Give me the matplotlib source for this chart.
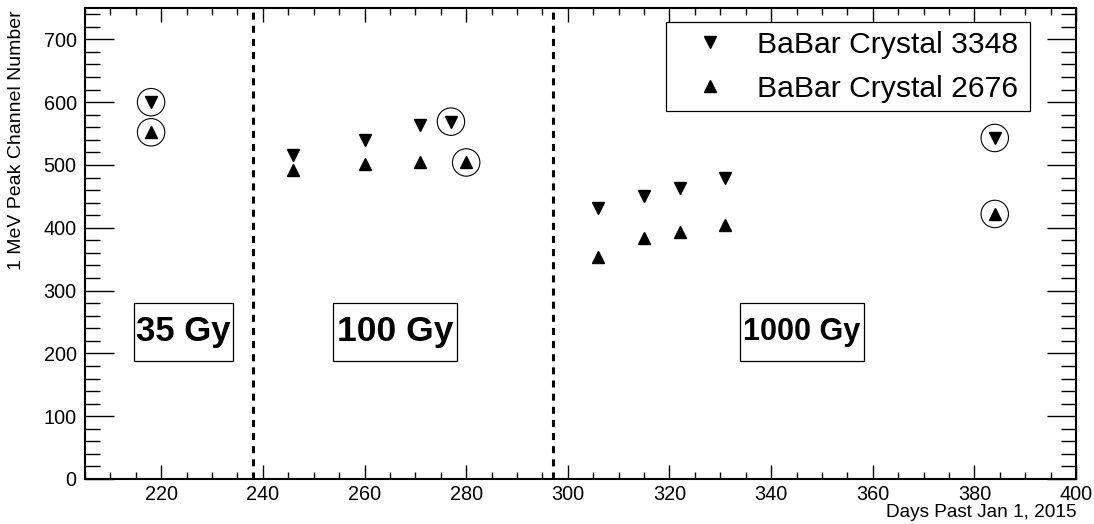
# Peak channel of the 1 MeV line vs. time for two irradiated BaBar crystals
import matplotlib
matplotlib.use('Agg')
import matplotlib.pyplot as plt
from matplotlib.patches import Rectangle
from matplotlib.ticker import MultipleLocator

plt.rcParams['font.family'] = ['Liberation Sans', 'DejaVu Sans']

# data
days_3348 = [218, 246, 260, 271, 277, 306, 315, 322, 331, 384]
peak_3348 = [600, 516, 539, 564, 569, 432, 450, 463, 479, 543]
days_2676 = [218, 246, 260, 271, 280, 306, 315, 322, 331, 384]
peak_2676 = [552, 492, 502, 504, 504, 354, 383, 394, 405, 422]
circled = [0, 4, 9]  # points marked with an open circle

dose_steps = [238, 297]  # day of each new irradiation
dose_labels = ['35 Gy', '100 Gy', '1000 Gy']
dose_boxes = [(214.6, 234.1), (253.8, 278.2), (333.9, 358.3)]
dose_fontsize = [25, 25.5, 22]

fig = plt.figure(figsize=(10.94, 5.24), dpi=100)
ax = fig.add_axes([0.0777, 0.0859, 0.9059, 0.8989])

ax.plot(days_3348, peak_3348, linestyle='none', marker='v', ms=8.5,
        color='black', label='BaBar Crystal 3348')
ax.plot(days_2676, peak_2676, linestyle='none', marker='^', ms=8.5,
        color='black', label='BaBar Crystal 2676')

# open circles around the highlighted points
cx = [days_3348[i] for i in circled] + [days_2676[i] for i in circled]
cy = [peak_3348[i] for i in circled] + [peak_2676[i] for i in circled]
ax.scatter(cx, cy, s=390, facecolors='none', edgecolors='black', linewidths=0.8)

# irradiation boundaries
for d in dose_steps:
    ax.axvline(d, color='black', lw=2.2, linestyle=(0, (2.3, 2.0)))

# dose boxes
for (x0, x1), lab, fs in zip(dose_boxes, dose_labels, dose_fontsize):
    ax.add_patch(Rectangle((x0, 188), x1 - x0, 93, facecolor='white',
                           edgecolor='black', lw=0.9, zorder=3))
    ax.text((x0 + x1) / 2, 234.5, lab, ha='center', va='center',
            fontsize=fs, fontweight='bold', zorder=4)

ax.set_xlim(205, 400)
ax.set_ylim(0, 750)

ax.xaxis.set_major_locator(MultipleLocator(20))
ax.xaxis.set_minor_locator(MultipleLocator(5))
ax.yaxis.set_major_locator(MultipleLocator(100))
ax.yaxis.set_minor_locator(MultipleLocator(20))

ax.tick_params(axis='both', which='both', direction='in', top=True,
               right=True, width=1.0, labelsize=14.3)
ax.tick_params(axis='x', which='major', length=10, pad=4)
ax.tick_params(axis='x', which='minor', length=5)
ax.tick_params(axis='y', which='major', length=21, pad=6)
ax.tick_params(axis='y', which='minor', length=10.5)
for s in ax.spines.values():
    s.set_linewidth(1.5)

ax.set_xlabel('Days Past Jan 1, 2015', fontsize=13.7, loc='right')
ax.xaxis.set_label_coords(1.0, -0.054)
ax.set_ylabel('1 MeV Peak Channel Number', fontsize=14, loc='top')
ax.yaxis.set_label_coords(-0.0605, 0.996)

leg = ax.legend(loc='upper left', bbox_to_anchor=(0.586, 0.783, 0.368, 0.187),
                mode='expand', fontsize=21.7, numpoints=1, fancybox=False,
                framealpha=1, edgecolor='black', borderpad=0.28,
                labelspacing=0.53, handlelength=2.37, handletextpad=0.39,
                borderaxespad=0)
leg.get_frame().set_linewidth(0.9)

fig.savefig('out.png', dpi=100)
